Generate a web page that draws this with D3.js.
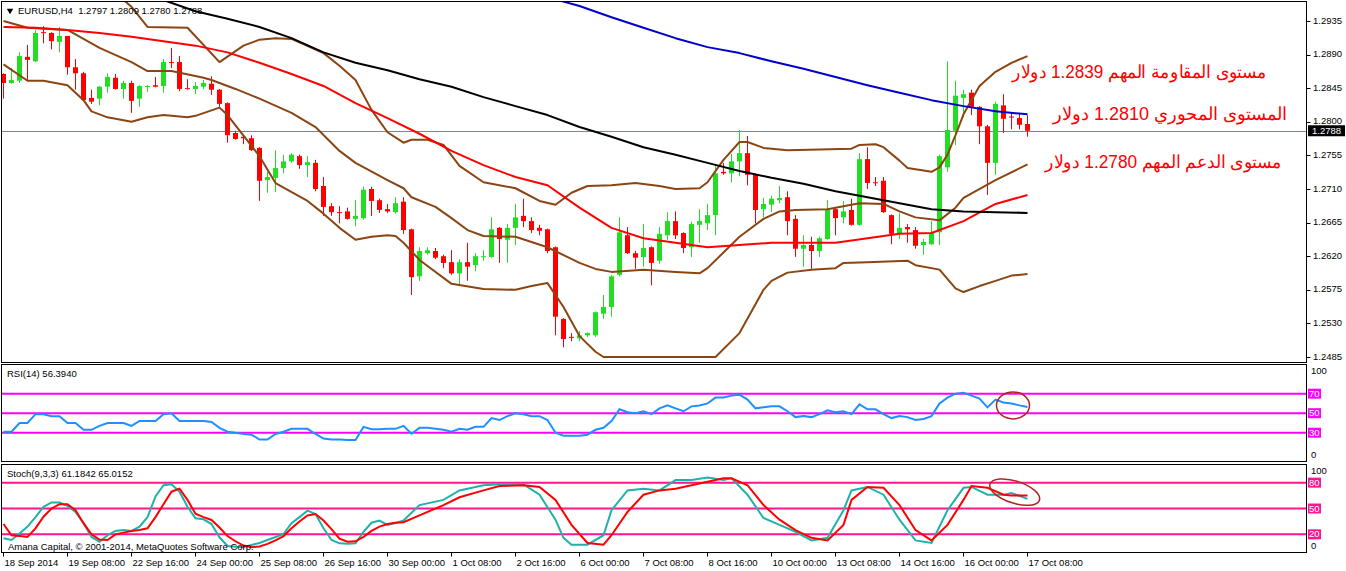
<!DOCTYPE html>
<html><head><meta charset="utf-8">
<script src="https://cdn.jsdelivr.net/npm/d3@7"></script>
<style>
body{margin:0;background:#fff}
svg{display:block}
text{font-family:"Liberation Sans",Arial,sans-serif}
</style>
</head><body>
<svg id="c" width="1346" height="571"></svg>
<script>
// ---------------- DATA ----------------
const symbolTitle = "EURUSD,H4  1.2797 1.2809 1.2780 1.2788";
const rsiTitle = "RSI(14) 56.3940";
const stochTitle = "Stoch(9,3,3) 61.1842 65.0152";
const copyright = "Amana Capital, \u00A9 2001-2014, MetaQuotes Software Corp.";
const dateLabels = ["18 Sep 2014","19 Sep 08:00","22 Sep 16:00","24 Sep 00:00","25 Sep 08:00","26 Sep 16:00","30 Sep 00:00","1 Oct 08:00","2 Oct 16:00","6 Oct 00:00","7 Oct 08:00","8 Oct 16:00","10 Oct 00:00","13 Oct 08:00","14 Oct 16:00","16 Oct 00:00","17 Oct 08:00"];
const priceTicks = [1.2485,1.2530,1.2575,1.2620,1.2665,1.2710,1.2755,1.2800,1.2845,1.2890,1.2935];
const lastPrice = 1.2788;

const open = [1.2864,1.2852,1.2855,1.2887,1.2881,1.2920,1.2919,1.2907,1.2915,1.2873,1.2865,1.2832,1.2831,1.2847,1.2859,1.2844,1.2852,1.2831,1.2847,1.2849,1.2848,1.2880,1.2880,1.2845,1.2844,1.2847,1.2851,1.2843,1.2825,1.2785,1.2780,1.2778,1.2765,1.2722,1.2725,1.2738,1.2747,1.2754,1.2742,1.2745,1.2714,1.2687,1.2679,1.2680,1.2670,1.2671,1.2710,1.2695,1.2683,1.2679,1.2693,1.2656,1.2593,1.2624,1.2627,1.2620,1.2612,1.2597,1.2612,1.2608,1.2619,1.2619,1.2658,1.2642,1.2658,1.2674,1.2667,1.2658,1.2656,1.2632,1.2536,1.2512,1.2510,1.2514,1.2514,1.2543,1.2552,1.2595,1.2648,1.2624,1.2619,1.2632,1.2614,1.2648,1.2667,1.2651,1.2632,1.2662,1.2664,1.2675,1.2733,1.2731,1.2747,1.2758,1.2730,1.2683,1.2689,1.2695,1.2699,1.2670,1.2630,1.2635,1.2627,1.2643,1.2683,1.2672,1.2682,1.2662,1.2750,1.2719,1.2721,1.2675,1.2651,1.2659,1.2655,1.2635,1.2636,1.2652,1.2739,1.2788,1.2832,1.2839,1.2820,1.2794,1.2745,1.2822,1.2807,1.2805,1.2797];
const high = [1.2865,1.2872,1.2893,1.2903,1.2923,1.2928,1.2920,1.2927,1.2915,1.2884,1.2867,1.2843,1.2848,1.2865,1.2864,1.2855,1.2855,1.2849,1.2849,1.2860,1.2884,1.2899,1.2888,1.2857,1.2853,1.2856,1.2861,1.2844,1.2826,1.2788,1.2782,1.2782,1.2766,1.2733,1.2762,1.2756,1.2758,1.2756,1.2754,1.2749,1.2726,1.2691,1.2687,1.2685,1.2695,1.2713,1.2713,1.2697,1.2690,1.2699,1.2699,1.2657,1.2632,1.2632,1.2631,1.2622,1.2628,1.2616,1.2638,1.2624,1.2628,1.2672,1.2659,1.2663,1.2690,1.2697,1.2672,1.2662,1.2657,1.2633,1.2537,1.2517,1.2520,1.2518,1.2546,1.2568,1.2595,1.2672,1.2659,1.2627,1.2663,1.2633,1.2659,1.2679,1.2680,1.2652,1.2666,1.2683,1.2690,1.2742,1.2745,1.2757,1.2789,1.2781,1.2731,1.2698,1.2701,1.2714,1.2707,1.2675,1.2648,1.2646,1.2646,1.2695,1.2686,1.2694,1.2697,1.2758,1.2766,1.2726,1.2726,1.2676,1.2678,1.2663,1.2659,1.2643,1.2667,1.2756,1.2881,1.2855,1.2843,1.2843,1.2821,1.2796,1.2827,1.2837,1.2812,1.2812,1.2809];
const low = [1.2831,1.2851,1.2852,1.2855,1.2880,1.2905,1.2897,1.2893,1.2863,1.2843,1.2828,1.2824,1.2822,1.2839,1.2843,1.2831,1.2812,1.2820,1.2840,1.2846,1.2839,1.2872,1.2841,1.2843,1.2837,1.2844,1.2836,1.2820,1.2772,1.2776,1.2770,1.2761,1.2694,1.2705,1.2706,1.2731,1.2745,1.2737,1.2726,1.2707,1.2674,1.2674,1.2664,1.2669,1.2660,1.2669,1.2674,1.2678,1.2678,1.2677,1.2650,1.2568,1.2587,1.2622,1.2616,1.2604,1.2595,1.2580,1.2587,1.2600,1.2614,1.2618,1.2611,1.2611,1.2635,1.2659,1.2651,1.2648,1.2624,1.2514,1.2498,1.2506,1.2506,1.2512,1.2512,1.2536,1.2539,1.2593,1.2623,1.2603,1.2606,1.2581,1.2610,1.2642,1.2643,1.2624,1.2619,1.2638,1.2655,1.2648,1.2729,1.2719,1.2727,1.2715,1.2664,1.2672,1.2679,1.2691,1.2648,1.2619,1.2606,1.2603,1.2619,1.2642,1.2648,1.2664,1.2661,1.2661,1.2710,1.2714,1.2678,1.2636,1.2643,1.2638,1.2630,1.2622,1.2635,1.2635,1.2733,1.2769,1.2806,1.2809,1.2770,1.2702,1.2729,1.2785,1.2790,1.2790,1.2780];
const close = [1.2852,1.2856,1.2888,1.2883,1.2919,1.2919,1.2908,1.2915,1.2873,1.2865,1.2829,1.2827,1.2847,1.2860,1.2844,1.2852,1.2828,1.2848,1.2848,1.2847,1.2880,1.2879,1.2844,1.2844,1.2848,1.2852,1.2843,1.2824,1.2782,1.2777,1.2778,1.2762,1.2721,1.2726,1.2738,1.2747,1.2756,1.2742,1.2746,1.2710,1.2686,1.2679,1.2678,1.2670,1.2674,1.2709,1.2694,1.2682,1.2680,1.2691,1.2655,1.2592,1.2627,1.2628,1.2618,1.2611,1.2597,1.2612,1.2606,1.2620,1.2620,1.2656,1.2643,1.2658,1.2672,1.2667,1.2655,1.2654,1.2627,1.2539,1.2509,1.2511,1.2514,1.2517,1.2545,1.2552,1.2593,1.2652,1.2624,1.2618,1.2631,1.2611,1.2650,1.2667,1.2648,1.2631,1.2663,1.2667,1.2675,1.2731,1.2731,1.2747,1.2758,1.2729,1.2682,1.2690,1.2697,1.2698,1.2667,1.2630,1.2635,1.2627,1.2644,1.2682,1.2671,1.2680,1.2662,1.2750,1.2718,1.2718,1.2679,1.2650,1.2658,1.2656,1.2634,1.2639,1.2651,1.2754,1.2789,1.2835,1.2837,1.2820,1.2794,1.2745,1.2824,1.2804,1.2806,1.2796,1.2788];

// moving averages (sampled bar index / value)
const blueIdx = [64,68,72,76,80,84,88,92,96,100,104,108,112,116,120,124,128];
const blueMA  = [1.2982,1.2967,1.2955,1.2940,1.2926,1.2912,1.2900,1.2892,1.2881,1.2871,1.2860,1.2849,1.2839,1.2829,1.2821,1.2814,1.2810];
const blackIdx = [16,20,24,28,32,36,40,44,48,52,56,60,64,68,72,76,80,84,88,92,96,100,104,108,112,116,120,124,128];
const blackMA  = [1.2977,1.2963,1.2948,1.2938,1.2927,1.2912,1.2893,1.2879,1.2869,1.2857,1.2847,1.2833,1.2821,1.2809,1.2793,1.2780,1.2766,1.2756,1.2745,1.2734,1.2725,1.2717,1.2707,1.2699,1.2691,1.2683,1.2680,1.2679,1.2678];
const redIdx = [0,4,8,12,16,20,24,28,32,36,40,44,48,52,56,60,64,68,72,76,80,84,88,92,96,100,104,108,112,116,120,124,128];
const redMA  = [1.2927,1.2926,1.2923,1.2919,1.2914,1.2908,1.2902,1.2893,1.2879,1.2864,1.2848,1.2825,1.2805,1.2784,1.2761,1.2742,1.2726,1.2715,1.2685,1.2658,1.2644,1.2638,1.2632,1.2635,1.2638,1.2638,1.2638,1.2644,1.2650,1.2651,1.2667,1.2690,1.2702];

// Bollinger bands
const bbUpIdx = [0,4,8,12,16,18,23,27,30,32,34,36,40,42,44,46,48,50,51,53,55,57,60,64,67,69,71,73,76,79,82,84,87,88,90,92,93,95,98,106,107,109,110,112,113,116,117,118,119,120,122,124,126,128];
const bbUp = [1.2993,1.2998,1.2999,1.2991,1.2954,1.2927,1.2926,1.2880,1.2902,1.2910,1.2912,1.2911,1.2892,1.2875,1.2856,1.2816,1.2786,1.2772,1.2776,1.2776,1.2769,1.2741,1.2719,1.2711,1.2694,1.2689,1.2705,1.2714,1.2715,1.2718,1.2714,1.2710,1.2711,1.2719,1.2749,1.2773,1.2773,1.2765,1.2762,1.2764,1.2769,1.2770,1.2766,1.2748,1.2738,1.2733,1.2739,1.2756,1.2782,1.2810,1.2848,1.2867,1.2879,1.2888];
const bbMidIdx = [0,3,8,12,16,18,21,25,26,29,32,36,39,42,44,48,50,51,54,56,58,60,64,68,72,74,76,80,84,87,88,92,95,97,99,103,107,110,112,114,117,119,120,124,128];
const bbMid = [1.2935,1.2926,1.2923,1.2899,1.2880,1.2868,1.2868,1.2859,1.2856,1.2844,1.2831,1.2812,1.2793,1.2761,1.2745,1.2722,1.2711,1.2699,1.2686,1.2671,1.2655,1.2647,1.2646,1.2632,1.2611,1.2603,1.2599,1.2602,1.2599,1.2597,1.2604,1.2646,1.2670,1.2680,1.2682,1.2683,1.2691,1.2690,1.2680,1.2672,1.2668,1.2685,1.2698,1.2722,1.2743];
const bbLowIdx = [0,3,5,8,10,11,13,16,18,20,23,24,27,28,32,34,38,40,42,44,46,48,49,50,52,56,60,64,66,68,70,72,74,75,89,92,95,96,98,101,104,105,108,113,114,117,119,120,122,124,126,128];
const bbLow = [1.2877,1.2855,1.2855,1.2849,1.2829,1.2814,1.2806,1.2800,1.2806,1.2809,1.2806,1.2808,1.2819,1.2809,1.2754,1.2718,1.2694,1.2677,1.2658,1.2642,1.2646,1.2648,1.2647,1.2638,1.2615,1.2583,1.2576,1.2575,1.2580,1.2584,1.2552,1.2513,1.2492,1.2485,1.2485,1.2517,1.2575,1.2587,1.2598,1.2602,1.2604,1.2611,1.2612,1.2614,1.2608,1.2602,1.2577,1.2572,1.2580,1.2587,1.2594,1.2596];

// RSI(14), one value per bar
const rsi = [31,31,40,40,49,49,47,47,40,40,33,33,37,40,40,40,37,42,42,42,49,50,42,42,42,42,41,35,31,30,28.7,28,23,23,28.7,31,34,34,34,28.7,24,23,23,22.5,22.5,36,33.5,33.5,34,34,37,29,35,35,34,33,31,34,33,36,36,45,43,47,50,49,47,47,43,30,27,27,27,28,33,35,42,54,51,50,52,49,55,58,55,52,57,58,60,66,66,68,69,64,55,56,57,57,52,46,47,46,49,53,51,52,49,59,54,54,49,45,47,46,43,44,47,60,66,70,71,68,65,56,64,61,60,58,56.4];
const rsiLevels = [70,50,30];

// Stochastic %K (main) and %D (signal)
const stochKIdx = [0,1,2,3,4,5,6,7,8,9,10,11,12,13,14,15,16,17,18,19,20,21,22,23,24,25,26,27,28,29,30,31,32,33,34,35,36,37,38,39,40,41,42,43,44,45,46,47,48,49,50,52,55,57,60,62,65,67,69,70,71,73,75,76,78,80,82,84,86,88,90,91,93,95,97,99,101,103,105,106,108,110,112,114,116,118,120,121,123,125,126,128];
const stochK = [15.4,13.5,21,29,40,52,57,57,53,46,33,17,11.5,19,24,25,24,29,40,64,77,78,69.5,52,38.6,37.5,32,16.6,6.5,5.5,5,7.7,10,13.5,17,20.4,33,40,47.5,43.6,27,13.5,9.6,9,9.6,23,33.5,36,31,33,36,54,60,71,77,78,78,66,37,16,8,8,19,48,71,73,71,83,83,86,83,85,66,39,31,23,13,16,48,71,75,66,37,13,10,48,74,75,66,66,68,61.2];
const stochDIdx = [0,1,2,3,4,5,6,7,8,9,10,11,12,13,14,15,16,17,18,19,20,21,22,23,24,25,26,27,28,29,30,31,32,33,34,35,36,37,38,39,40,41,42,43,44,45,46,47,48,49,50,52,55,57,60,62,65,67,69,71,73,75,76,78,80,82,84,86,88,90,91,93,95,97,99,101,103,105,106,108,110,112,114,116,118,120,121,123,125,126,128];
const stochD = [32,19,18,17,27,40.5,50,55,55,48,33,20,14,13.5,20,22,24,25,27,40,55,69.5,73,60,44,40,36.7,28,18,12,7,5,6,9,13,18,27,35,42,43.6,36,26,15,11.5,12,17,24,29,32,33.5,34,42,54,63,71,76,77,75,60,31,10,8,19,46,66,71,73,77,81,85,85,77,54,37,25,16,13,31,60,75,74,54,25,13,31,60,76,74,66,65,65];
const stochLevels = [80,50,20];

const notes = [
  "\u0645\u0633\u062A\u0648\u0649 \u0627\u0644\u0645\u0642\u0627\u0648\u0645\u0629 \u0627\u0644\u0645\u0647\u0645 1.2839 \u062F\u0648\u0644\u0627\u0631",
  "\u0627\u0644\u0645\u0633\u062A\u0648\u0649 \u0627\u0644\u0645\u062D\u0648\u0631\u064A 1.2810 \u062F\u0648\u0644\u0627\u0631",
  "\u0645\u0633\u062A\u0648\u0649 \u0627\u0644\u062F\u0639\u0645 \u0627\u0644\u0645\u0647\u0645 1.2780 \u062F\u0648\u0644\u0627\u0631"
];

// ---------------- DRAW ----------------
const svg = d3.select("#c");
const PL = 1.5, PR = 1306.5;
const mainP = {t:1.5, b:362.5}, rsiP = {t:364.5, b:461.5}, stP = {t:464.5, b:552.5};

const x = d3.scaleLinear().domain([0,128]).range([3.5,1027.5]);
const y = d3.scaleLinear().domain([1.2485,1.2935]).range([357,21]);
const yR = d3.scaleLinear().domain([0,100]).range([462,364.4]);
const yS = d3.scaleLinear().domain([0,100]).range([551.6,465.4]);

svg.append("rect").attr("width",1346).attr("height",571).attr("fill","#fff");

const defs = svg.append("defs");
[["clipMain",mainP],["clipRsi",rsiP],["clipSt",stP]].forEach(([id,p])=>{
  defs.append("clipPath").attr("id",id).append("rect")
    .attr("x",PL+0.5).attr("y",p.t+0.5).attr("width",PR-PL-1).attr("height",p.b-p.t-1);
});

// ---- main panel ----
const gm = svg.append("g").attr("clip-path","url(#clipMain)");
gm.append("line").attr("x1",PL).attr("x2",PR)
  .attr("y1",Math.round(y(lastPrice))+0.5).attr("y2",Math.round(y(lastPrice))+0.5)
  .attr("stroke","#778899").attr("stroke-width",1);

const bars = d3.range(open.length).map(i=>({i,o:open[i],h:high[i],l:low[i],c:close[i]}));
const cg = gm.append("g");
cg.selectAll("line.w").data(bars).join("line")
  .attr("x1",d=>Math.floor(x(d.i))+0.5).attr("x2",d=>Math.floor(x(d.i))+0.5)
  .attr("y1",d=>y(d.h)).attr("y2",d=>y(d.l))
  .attr("stroke",d=>d.c>d.o?"#22dd22":"#ff0000").attr("stroke-width",1);
cg.selectAll("rect.b").data(bars).join("rect")
  .attr("x",d=>Math.floor(x(d.i))-2).attr("width",5)
  .attr("y",d=>y(Math.max(d.o,d.c)))
  .attr("height",d=>Math.max(1,y(Math.min(d.o,d.c))-y(Math.max(d.o,d.c))))
  .attr("fill",d=>d.c>d.o?"#22dd22":"#ff0000");

const lineP = d3.line().x(d=>x(d[0])).y(d=>y(d[1]));
function drawLine(g, idx, vals, color, gen){
  g.append("path").datum(idx.map((k,j)=>[k,vals[j]]))
   .attr("d",gen).attr("fill","none").attr("stroke",color).attr("stroke-width",2)
   .attr("stroke-linejoin","round");
}
drawLine(gm,bbUpIdx,bbUp,"#8b4513",lineP);
drawLine(gm,bbMidIdx,bbMid,"#8b4513",lineP);
drawLine(gm,bbLowIdx,bbLow,"#8b4513",lineP);
drawLine(gm,redIdx,redMA,"#ff0000",lineP);
drawLine(gm,blackIdx,blackMA,"#000000",lineP);
drawLine(gm,blueIdx,blueMA,"#0000cd",lineP);

// title
svg.append("path").attr("d",d3.symbol().type(d3.symbolTriangle).size(18)())
  .attr("transform","translate(10,10.5) rotate(180)").attr("fill","#000");
svg.append("text").attr("x",18).attr("y",14).attr("font-size",9.5).attr("fill","#000")
  .attr("xml:space","preserve").text(symbolTitle);

// arabic notes
const noteCfg = [{cx:1139.5,p:1.2865,w:255},{cx:1170,p:1.2809,w:234},{cx:1163.5,p:1.2745,w:237}];
svg.selectAll("text.note").data(notes).join("text")
  .attr("class","note")
  .attr("x",(d,i)=>noteCfg[i].cx).attr("y",(d,i)=>y(noteCfg[i].p))
  .attr("text-anchor","middle").attr("dominant-baseline","middle")
  .attr("direction","rtl")
  .attr("font-size",18).attr("fill","#ff0000")
  .attr("textLength",(d,i)=>noteCfg[i].w).attr("lengthAdjust","spacingAndGlyphs")
  .text(d=>d);

// price axis
svg.selectAll("line.pt").data(priceTicks).join("line")
  .attr("x1",PR).attr("x2",PR+4).attr("y1",d=>Math.round(y(d))+0.5).attr("y2",d=>Math.round(y(d))+0.5)
  .attr("stroke","#000");
svg.selectAll("text.pt").data(priceTicks).join("text")
  .attr("x",1313).attr("y",d=>y(d)).attr("dominant-baseline","middle")
  .attr("font-size",9.5).attr("fill","#000").text(d=>d.toFixed(4));
svg.append("rect").attr("x",1308).attr("y",y(lastPrice)-5.5).attr("width",37).attr("height",11).attr("fill","#000");
svg.append("text").attr("x",1312).attr("y",y(lastPrice)+0.5).attr("dominant-baseline","middle")
  .attr("font-size",9.5).attr("fill","#fff").text(lastPrice.toFixed(4));

// ---- RSI panel ----
const gr = svg.append("g").attr("clip-path","url(#clipRsi)");
gr.selectAll("line").data(rsiLevels).join("line")
  .attr("x1",PL).attr("x2",PR).attr("y1",d=>yR(d)).attr("y2",d=>yR(d))
  .attr("stroke","#ff00ff").attr("stroke-width",2);
gr.append("path").datum(rsi.map((v,i)=>[i,v]))
  .attr("d",d3.line().x(d=>x(d[0])).y(d=>yR(d[1])))
  .attr("fill","none").attr("stroke","#1e90ff").attr("stroke-width",2);
svg.append("text").attr("x",7).attr("y",377).attr("font-size",9.5).text(rsiTitle);

// ---- Stoch panel ----
const gs = svg.append("g").attr("clip-path","url(#clipSt)");
gs.selectAll("line").data(stochLevels).join("line")
  .attr("x1",PL).attr("x2",PR).attr("y1",d=>yS(d)).attr("y2",d=>yS(d))
  .attr("stroke","#ff1493").attr("stroke-width",2);
const lineS = d3.line().x(d=>x(d[0])).y(d=>yS(d[1]));
gs.append("path").datum(stochKIdx.map((k,j)=>[k,stochK[j]]))
  .attr("d",lineS).attr("fill","none").attr("stroke","#20b2aa").attr("stroke-width",2);
gs.append("path").datum(stochDIdx.map((k,j)=>[k,stochD[j]]))
  .attr("d",lineS).attr("fill","none").attr("stroke","#ff0000").attr("stroke-width",2);
svg.append("text").attr("x",7).attr("y",477).attr("font-size",9.5).text(stochTitle);
svg.append("text").attr("x",8).attr("y",550).attr("font-size",9.5).text(copyright);

// annotation ellipses
svg.append("ellipse").attr("cx",x(126.5)-2.5).attr("cy",yR(58)).attr("rx",16.5).attr("ry",13.5)
  .attr("fill","none").attr("stroke","#b22222").attr("stroke-width",1.5);
svg.append("ellipse").attr("cx",0).attr("cy",0).attr("rx",26).attr("ry",11)
  .attr("transform",`translate(${x(126.4)},${yS(69)}) rotate(18)`)
  .attr("fill","none").attr("stroke","#b22222").attr("stroke-width",1.5);

// indicator axis labels
function levelLabels(levels, sc, color, topY, botY){
  svg.append("text").attr("x",1311).attr("y",topY).attr("dominant-baseline","middle").attr("font-size",9.5).text("100");
  svg.append("text").attr("x",1311).attr("y",botY).attr("dominant-baseline","middle").attr("font-size",9.5).text("0");
  levels.forEach(v=>{
    svg.append("rect").attr("x",1308).attr("y",sc(v)-5).attr("width",13).attr("height",10).attr("fill",color);
    svg.append("text").attr("x",1309).attr("y",sc(v)+0.5).attr("dominant-baseline","middle")
      .attr("font-size",9.5).attr("fill","#fff").text(v);
  });
}
levelLabels(rsiLevels, yR, "#ff00ff", 371, 455);
levelLabels(stochLevels, yS, "#ff1493", 471, 546);

// panel frames
[mainP,rsiP,stP].forEach(p=>{
  svg.append("rect").attr("x",PL).attr("y",p.t).attr("width",PR-PL).attr("height",p.b-p.t)
    .attr("fill","none").attr("stroke","#000").attr("stroke-width",1);
});

// time axis
const tIdx = dateLabels.map((d,k)=>k*8);
svg.selectAll("line.tt").data(tIdx).join("line")
  .attr("x1",d=>Math.floor(x(d))+0.5).attr("x2",d=>Math.floor(x(d))+0.5)
  .attr("y1",stP.b).attr("y2",stP.b+4).attr("stroke","#000");
svg.selectAll("text.tl").data(dateLabels).join("text")
  .attr("x",(d,k)=>x(k*8)+1).attr("y",566).attr("font-size",9.5).text(d=>d);
</script>
</body></html>
